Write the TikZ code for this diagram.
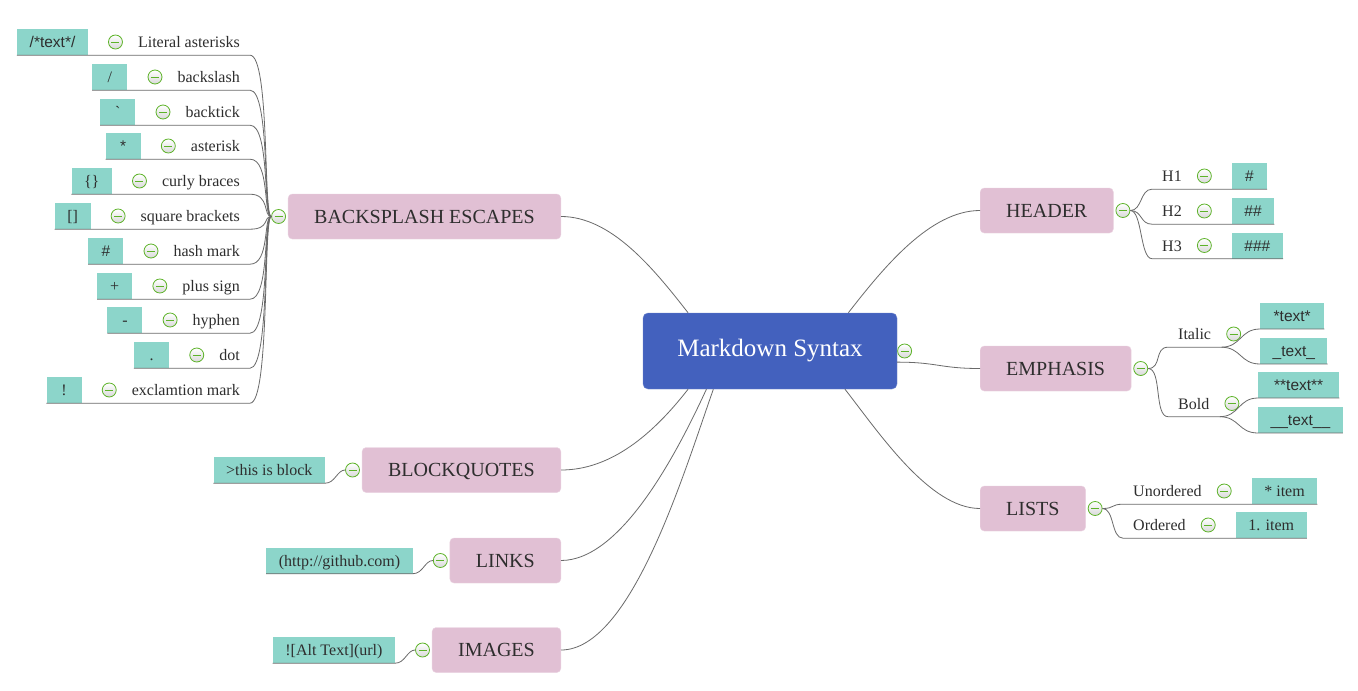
\documentclass[tikz,border=0pt]{standalone}
\usepackage{fontspec}
\setmainfont{Liberation Serif}
\newfontfamily\boxsans{Liberation Sans}
\usetikzlibrary{positioning}

\definecolor{rootblue}{HTML}{4361BE}
\definecolor{topicpink}{HTML}{E1C0D4}
\definecolor{leafteal}{HTML}{8CD5CA}
\definecolor{foldgreen}{HTML}{5DB329}
\definecolor{inkgray}{HTML}{2E2E2E}
\definecolor{wiregray}{HTML}{6A6A6A}

\tikzset{
  root/.style={rectangle, rounded corners=5pt, fill=rootblue, draw=rootblue!75!white,
    text=white, minimum width=254, minimum height=76, font=\fontsize{25}{30}\selectfont},
  topic/.style={rectangle, rounded corners=4pt, fill=topicpink, draw=topicpink!70!white,
    text=inkgray, inner xsep=26, inner ysep=0, minimum height=45, text height=13, text depth=0,
    font=\fontsize{20}{24}\selectfont},
  itemtext/.style={inner xsep=10, inner ysep=0, minimum height=26, text height=11, text depth=0,
    text=inkgray, font=\fontsize{16}{19}\selectfont},
  leaf/.style={fill=leafteal, inner xsep=12.5, inner ysep=0, minimum height=26, minimum width=35,
    text height=11, text depth=0, text=inkgray, font=\fontsize{16}{19}\selectfont},
  sansleaf/.style={leaf, font=\boxsans\fontsize{15.5}{19}\selectfont},
  fold/.style={circle, draw=foldgreen, line width=0.8pt, inner sep=0pt, minimum size=14,
    top color=white, bottom color=black!15,
    path picture={\draw[foldgreen, line width=1pt]
      ([xshift=-4pt]path picture bounding box.center) -- ([xshift=4pt]path picture bounding box.center);}},
  wire/.style={draw=wiregray, line width=0.8pt}
}

\begin{document}
\begin{tikzpicture}[x=1pt, y=-1pt]
\fill[white] (0,0) rectangle (1358,691);
\useasboundingbox (0,0) rectangle (1358,691);

% central topic
\node[root] (md) at (770,351) {Markdown Syntax};
\node[fold, right=0pt of md] (mdfold) {};

% main topics
\node[topic, anchor=east] (esc) at (561,216.5) {BACKSPLASH ESCAPES};
\node[fold, left=2pt of esc] (escfold) {};
\node[topic, anchor=west] (head) at (980,210.5) {HEADER};
\node[fold, right=2pt of head] (headfold) {};
\node[topic, anchor=west] (emph) at (980,368.5) {EMPHASIS};
\node[fold, right=2pt of emph] (emphfold) {};
\node[topic, anchor=west] (lists) at (980,508.5) {LISTS};
\node[fold, right=2pt of lists] (listsfold) {};
\node[topic, anchor=east] (quote) at (561,470) {BLOCKQUOTES};
\node[fold, left=2pt of quote] (quotefold) {};
\node[topic, anchor=east] (links) at (561,560.5) {LINKS};
\node[fold, left=2pt of links] (linksfold) {};
\node[topic, anchor=east] (imgs) at (561,650) {IMAGES};
\node[fold, left=2pt of imgs] (imgsfold) {};

\draw[wire] (esc.east) .. controls +(50,0) and +(-35,-45) .. (md.155);
\draw[wire] (md.26) .. controls +(35,-45) and +(-50,0) .. (head.west);
\draw[wire] (md.355) .. controls +(40,0) and +(-40,0) .. (emph.west);
\draw[wire] (md.333) .. controls +(35,45) and +(-50,0) .. (lists.west);
\draw[wire] (md.205) .. controls +(-35,45) and +(50,0) .. (quote.east);
\draw[wire] (md.211) .. controls +(-30,65) and +(60,0) .. (links.east);
\draw[wire] (md.214) .. controls +(-30,85) and +(70,0) .. (imgs.east);

% escapes
\node[itemtext, anchor=east] (lit) at (250,42) {Literal asterisks};
\node[fold, left=5pt of lit] (litfold) {};
\node[sansleaf, left=20pt of litfold] (litbox) {/*text*/};
\node[itemtext, anchor=east] (bsl) at (250,77) {backslash};
\node[fold, left=5pt of bsl] (bslfold) {};
\node[leaf, left=20pt of bslfold] (bslbox) {/};
\node[itemtext, anchor=east] (btk) at (250,112) {backtick};
\node[fold, left=5pt of btk] (btkfold) {};
\node[leaf, left=20pt of btkfold] (btkbox) {\textasciigrave};
\node[itemtext, anchor=east] (ast) at (250,146) {asterisk};
\node[fold, left=5pt of ast] (astfold) {};
\node[sansleaf, left=20pt of astfold] (astbox) {*};
\node[itemtext, anchor=east] (crl) at (250,181) {curly braces};
\node[fold, left=5pt of crl] (crlfold) {};
\node[leaf, left=20pt of crlfold] (crlbox) {\{\}};
\node[itemtext, anchor=east] (sqb) at (250,216) {square brackets};
\node[fold, left=5pt of sqb] (sqbfold) {};
\node[leaf, left=20pt of sqbfold] (sqbbox) {{[]}};
\node[itemtext, anchor=east] (hsh) at (250,251) {hash mark};
\node[fold, left=5pt of hsh] (hshfold) {};
\node[sansleaf, left=20pt of hshfold] (hshbox) {\#};
\node[itemtext, anchor=east] (pls) at (250,286) {plus sign};
\node[fold, left=5pt of pls] (plsfold) {};
\node[leaf, left=20pt of plsfold] (plsbox) {+};
\node[itemtext, anchor=east] (hyp) at (250,320) {hyphen};
\node[fold, left=5pt of hyp] (hypfold) {};
\node[leaf, left=20pt of hypfold] (hypbox) {-};
\node[itemtext, anchor=east] (dot) at (250,355) {dot};
\node[fold, left=5pt of dot] (dotfold) {};
\node[leaf, left=20pt of dotfold] (dotbox) {.};
\node[itemtext, anchor=east] (exc) at (250,390) {exclamtion mark};
\node[fold, left=5pt of exc] (excfold) {};
\node[leaf, left=20pt of excfold] (excbox) {!};

\foreach \r in {lit,bsl,btk,ast,crl,sqb,hsh,pls,hyp,dot,exc}
  \draw[wire] (\r box.south west) -- (\r.south east) .. controls +(20,0) and +(-8,0) .. (escfold.west);

% header
\node[itemtext, anchor=west] (hone) at (1152,176) {H1};
\node[fold, right=5pt of hone] (honefold) {};
\node[sansleaf, right=20pt of honefold] (honebox) {\#};
\node[itemtext, anchor=west] (htwo) at (1152,211) {H2};
\node[fold, right=5pt of htwo] (htwofold) {};
\node[sansleaf, right=20pt of htwofold] (htwobox) {\#\#};
\node[itemtext, anchor=west] (hthree) at (1152,245.5) {H3};
\node[fold, right=5pt of hthree] (hthreefold) {};
\node[sansleaf, right=20pt of hthreefold] (hthreebox) {\#\#\#};

\foreach \r in {hone,htwo,hthree}
  \draw[wire] (headfold.east) .. controls +(12,0) and +(-12,0) .. (\r.south west) -- (\r box.south east);

% emphasis
\node[itemtext, anchor=west] (ital) at (1168,334) {Italic};
\node[fold, right=5pt of ital] (italfold) {};
\node[sansleaf, anchor=south west, minimum width=64] (italone) at (1260,329) {*text*};
\node[sansleaf, anchor=south west, minimum width=64] (italtwo) at (1260,364) {\_text\_};
\node[itemtext, anchor=west] (bold) at (1168,403.5) {Bold};
\node[fold, right=5pt of bold] (boldfold) {};
\node[sansleaf, anchor=south west, minimum width=81] (boldone) at (1258,398) {**text**};
\node[sansleaf, anchor=south west, minimum width=81] (boldtwo) at (1258,433) {\_\_text\_\_};

\foreach \r in {ital,bold}{
  \draw[wire] (emphfold.east) .. controls +(14,0) and +(-14,0) .. (\r.south west) -- (\r.south east);
  \draw[wire] (\r.south east) .. controls +(20,0) and +(-20,0) .. (\r one.south west) -- (\r one.south east);
  \draw[wire] (\r.south east) .. controls +(20,0) and +(-20,0) .. (\r two.south west) -- (\r two.south east);
}

% lists
\node[itemtext, anchor=west] (unord) at (1123,491) {Unordered};
\node[fold, right=5pt of unord] (unordfold) {};
\node[leaf, right=20pt of unordfold] (unordbox) {* item};
\node[itemtext, anchor=west] (ord) at (1123,525) {Ordered};
\node[fold, right=5pt of ord] (ordfold) {};
\node[leaf, right=20pt of ordfold] (ordbox) {1. item};

\foreach \r in {unord,ord}
  \draw[wire] (listsfold.east) .. controls +(12,0) and +(-12,0) .. (\r.south west) -- (\r box.south east);

% blockquotes, links, images
\node[leaf, left=20pt of quotefold] (quotebox) {>this is block};
\node[leaf, left=20pt of linksfold] (linksbox) {(http://github.com)};
\node[leaf, left=20pt of imgsfold] (imgsbox) {![Alt Text](url)};

\foreach \r in {quote,links,imgs}
  \draw[wire] (\r box.south west) -- (\r box.south east) .. controls +(10,0) and +(-8,0) .. (\r fold.west);

\end{tikzpicture}
\end{document}
